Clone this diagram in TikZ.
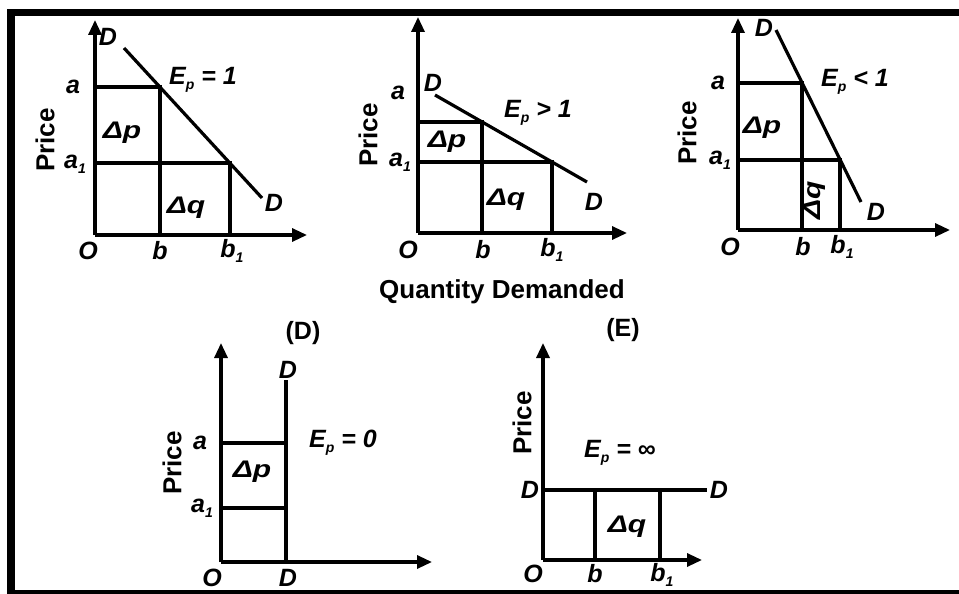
\documentclass[tikz,border=0pt]{standalone}
\usepackage{fontspec}
\setmainfont{Liberation Sans}
\usetikzlibrary{arrows.meta}
\newcommand\lsub[1]{\raisebox{-0.35ex}{\fontsize{14}{14}\selectfont #1}}
\newcommand\dlt[1]{\scalebox{1.25}[1]{\fontsize{24}{24}\selectfont\bfseries\itshape #1}}
\begin{document}
\begin{tikzpicture}[x=1pt,y=-1pt,
  ln/.style={line width=3.2pt},
  ax/.style={line width=3.2pt,-{Triangle[length=15pt,width=13pt]}},
  lbl/.style={font=\fontsize{25}{25}\selectfont\bfseries\itshape,inner sep=0pt},
  dl/.style={inner sep=0pt},
  ttl/.style={font=\fontsize{26}{26}\selectfont\bfseries,inner sep=0pt},
  hd/.style={font=\fontsize{25}{25}\selectfont\bfseries,inner sep=0pt},
]
\useasboundingbox (0,0) rectangle (959,594);
% frame
\fill (7,9) rectangle (15,594);
\fill (7,9) rectangle (959,16.5);
\fill (7,590) rectangle (959,594);

% ---------------- Panel A : Ep = 1
\coordinate (AO) at (95,235);
\coordinate (AY) at (95,20);
\coordinate (AX) at (307,235);
\coordinate (Aa) at (95,87);
\coordinate (Aa1) at (95,163);
\coordinate (Ab) at (160,235);
\coordinate (Ab1) at (230,235);
\coordinate (AP) at (160,87);
\coordinate (AQ) at (230,163);
\coordinate (AD1) at (124,48);
\coordinate (AD2) at (262,198);
\draw[ax] (AO) -- (AY);
\draw[ax] (AO) -- (AX);
\draw[ln] (Aa) -- (AP) -- (Ab);
\draw[ln] (Aa1) -- (AQ) -- (Ab1);
\draw[ln] (AD1) -- (AD2);
\node[lbl] (AlD1) at (108,37) {D};
\node[lbl] (AlD2) at (274,203) {D};
\node[lbl] (AlE) at (203,80) {E\lsub{p} = 1};
\node[dl] (AlP) at (122,133) {\dlt{Δp}};
\node[dl] (AlQ) at (186,208) {\dlt{Δq}};
\node[lbl] (AlO) at (88,251) {O};
\node[lbl] (Alb) at (160,251) {b};
\node[lbl] (Alb1) at (232,251) {b\lsub{1}};
\node[lbl] (Ala) at (73,87) {a};
\node[lbl] (Ala1) at (75,164) {a\lsub{1}};
\node[ttl,rotate=90] (AlPr) at (45,140) {Price};

% ---------------- Panel B : Ep > 1
\coordinate (BO) at (418,233);
\coordinate (BY) at (418,17);
\coordinate (BX) at (627,233);
\coordinate (Ba) at (418,122);
\coordinate (Ba1) at (418,162);
\coordinate (Bb) at (482,233);
\coordinate (Bb1) at (552,233);
\coordinate (BP) at (482,122);
\coordinate (BQ) at (552,162);
\coordinate (BD1) at (435,95);
\coordinate (BD2) at (587,182);
\draw[ax] (BO) -- (BY);
\draw[ax] (BO) -- (BX);
\draw[ln] (Ba) -- (BP) -- (Bb);
\draw[ln] (Ba1) -- (BQ) -- (Bb1);
\draw[ln] (BD1) -- (BD2);
\node[lbl] (BlD1) at (433,83) {D};
\node[lbl] (BlD2) at (594,202) {D};
\node[lbl] (BlE) at (538,113) {E\lsub{p} > 1};
\node[dl] (BlP) at (447,142) {\dlt{Δp}};
\node[dl] (BlQ) at (506,200) {\dlt{Δq}};
\node[lbl] (BlO) at (408,250) {O};
\node[lbl] (Blb) at (483,250) {b};
\node[lbl] (Blb1) at (552,250) {b\lsub{1}};
\node[lbl] (Bla) at (398,93) {a};
\node[lbl] (Bla1) at (400,162) {a\lsub{1}};
\node[ttl,rotate=90] (BlPr) at (368,135) {Price};

\node[ttl] (QD) at (502,292) {Quantity Demanded};

% ---------------- Panel C : Ep < 1
\coordinate (CO) at (738,230);
\coordinate (CY) at (738,18);
\coordinate (CX) at (950,230);
\coordinate (Ca) at (738,83);
\coordinate (Ca1) at (738,160);
\coordinate (Cb) at (802,230);
\coordinate (Cb1) at (840,230);
\coordinate (CP) at (802,83);
\coordinate (CQ) at (840,160);
\coordinate (CD1) at (776,30);
\coordinate (CD2) at (861,202);
\draw[ax] (CO) -- (CY);
\draw[ax] (CO) -- (CX);
\draw[ln] (Ca) -- (CP) -- (Cb);
\draw[ln] (Ca1) -- (CQ) -- (Cb1);
\draw[ln] (CD1) -- (CD2);
\node[lbl] (ClD1) at (764,28) {D};
\node[lbl] (ClD2) at (876,212) {D};
\node[lbl] (ClE) at (855,82) {E\lsub{p} < 1};
\node[dl] (ClP) at (762,128) {\dlt{Δp}};
\node[dl,rotate=90] (ClQ) at (815,200) {\dlt{Δq}};
\node[lbl] (ClO) at (730,247) {O};
\node[lbl] (Clb) at (803,247) {b};
\node[lbl] (Clb1) at (842,247) {b\lsub{1}};
\node[lbl] (Cla) at (718,83) {a};
\node[lbl] (Cla1) at (720,160) {a\lsub{1}};
\node[ttl,rotate=90] (ClPr) at (687,133) {Price};

% ---------------- Panel D : Ep = 0
\node[hd] (DT) at (303,333) {(D)};
\coordinate (DO) at (221,562);
\coordinate (DY) at (221,343);
\coordinate (DX) at (432,562);
\coordinate (Da) at (221,443);
\coordinate (Da1) at (221,508);
\coordinate (DDt) at (286,380);
\coordinate (DDb) at (286,562);
\coordinate (DP) at (286,443);
\coordinate (DQ) at (286,508);
\draw[ax] (DO) -- (DY);
\draw[ax] (DO) -- (DX);
\draw[ln] (DDt) -- (DDb);
\draw[ln] (Da) -- (DP);
\draw[ln] (Da1) -- (DQ);
\node[lbl] (DlD1) at (288,370) {D};
\node[lbl] (DlD2) at (288,578) {D};
\node[lbl] (DlO) at (212,578) {O};
\node[lbl] (DlE) at (343,443) {E\lsub{p} = 0};
\node[dl] (DlP) at (252,472) {\dlt{Δp}};
\node[lbl] (Dla) at (200,443) {a};
\node[lbl] (Dla1) at (202,508) {a\lsub{1}};
\node[ttl,rotate=90] (DlPr) at (172,463) {Price};

% ---------------- Panel E : Ep = infinity
\node[hd] (ET) at (623,330) {(E)};
\coordinate (EO) at (543,560);
\coordinate (EY) at (543,343);
\coordinate (EX) at (702,560);
\coordinate (EDl) at (543,490);
\coordinate (EDr) at (707,490);
\coordinate (EP) at (595,490);
\coordinate (EQ) at (660,490);
\coordinate (Eb) at (595,560);
\coordinate (Eb1) at (660,560);
\draw[ax] (EO) -- (EY);
\draw[ax] (EO) -- (EX);
\draw[ln] (EDl) -- (EDr);
\draw[ln] (EP) -- (Eb);
\draw[ln] (EQ) -- (Eb1);
\node[lbl] (ElD1) at (530,490) {D};
\node[lbl] (ElD2) at (719,490) {D};
\node[lbl] (ElE) at (620,453) {E\lsub{p} = ∞};
\node[dl] (ElQ) at (627,527) {\dlt{Δq}};
\node[lbl] (ElO) at (533,574) {O};
\node[lbl] (Elb) at (595,574) {b};
\node[lbl] (Elb1) at (662,575) {b\lsub{1}};
\node[ttl,rotate=90] (ElPr) at (522,423) {Price};
\end{tikzpicture}
\end{document}
